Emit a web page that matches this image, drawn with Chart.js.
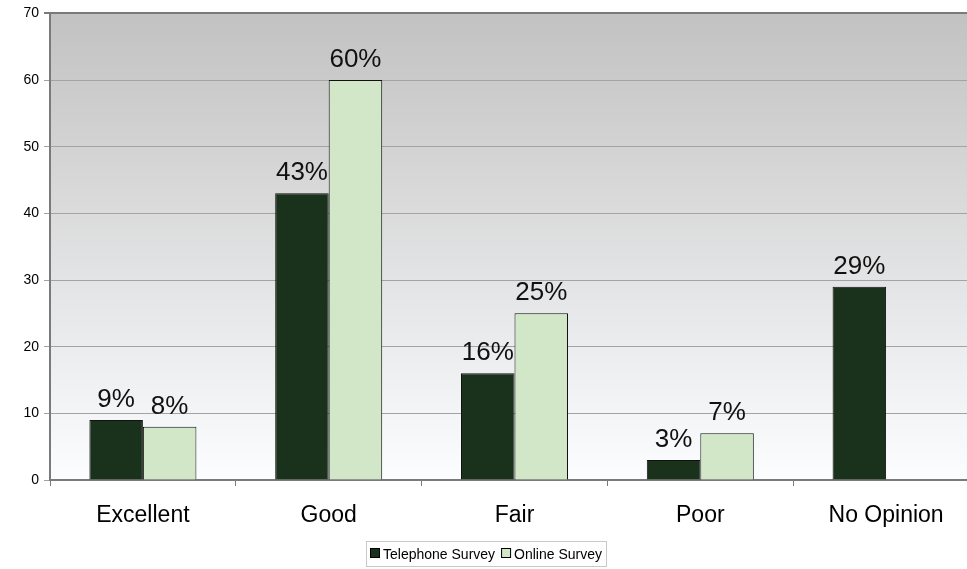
<!DOCTYPE html>
<html>
<head>
<meta charset="utf-8">
<script src="https://cdn.jsdelivr.net/npm/chart.js@4"></script>
<style>
  html, body { margin: 0; padding: 0; background: #fff; overflow: hidden; }
  /* the plot runs a little past the right edge of the picture */
  #wrap { width: 967px; height: 569px; overflow: hidden; }
  #surveyChart { display: block; }
</style>
</head>
<body>
<div id="wrap"><canvas id="surveyChart" width="979" height="569"></canvas></div>
<script>
const categories = ['Excellent', 'Good', 'Fair', 'Poor', 'No Opinion'];
const telephone = [9, 43, 16, 3, 29];
const online = [8, 60, 25, 7, null];
const yTicks = [0, 10, 20, 30, 40, 50, 60, 70];

const FONT = '"Liberation Sans", Arial, sans-serif';
const colors = {
    dark: '#1a321b',
    light: '#d1e7c7',
    grid: '#a3a3a3',
    axis: '#7a7a7a'
};

// gradient behind the plot, grey at the top fading to white
const plotBackground = {
    id: 'plotBackground',
    beforeDraw(chart) {
        const { ctx, chartArea: a } = chart;
        const g = ctx.createLinearGradient(0, a.top, 0, a.bottom);
        g.addColorStop(0, '#c2c2c2');
        g.addColorStop(1, '#fcfdff');
        ctx.save();
        ctx.fillStyle = g;
        ctx.fillRect(a.left, a.top, a.right - a.left, a.bottom - a.top);
        ctx.restore();
    }
};

// percent labels above each bar
const valueLabels = {
    id: 'valueLabels',
    afterDatasetsDraw(chart) {
        const ctx = chart.ctx;
        ctx.save();
        ctx.font = '26px ' + FONT;
        ctx.fillStyle = '#111';
        ctx.textAlign = 'center';
        ctx.textBaseline = 'alphabetic';
        chart.data.datasets.forEach((ds, i) => {
            chart.getDatasetMeta(i).data.forEach((bar, j) => {
                const v = ds.data[j];
                if (v == null) return;
                ctx.fillText(v + '%', bar.x, bar.y - 13);
            });
        });
        ctx.restore();
    }
};

// framed legend under the axis, built from the datasets
const boxLegend = {
    id: 'boxLegend',
    afterDraw(chart) {
        const ctx = chart.ctx;
        const top = 541, h = 25, box = 10, gap = 3, sep = 6, margin = 4;
        ctx.save();
        ctx.font = '14px ' + FONT;
        ctx.textBaseline = 'alphabetic';
        const items = chart.data.datasets.map(ds => ({ ds, w: ctx.measureText(ds.label).width }));
        const total = items.reduce((s, it) => s + box + gap + it.w, 0) + sep * (items.length - 1) + margin * 2;
        const left = Math.round(486 - total / 2);
        let x = left + margin;
        items.forEach(({ ds, w }) => {
            ctx.fillStyle = ds.backgroundColor;
            ctx.fillRect(x, top + 7, box, box);
            ctx.strokeStyle = '#000';
            ctx.lineWidth = 1;
            ctx.strokeRect(x + 0.5, top + 7.5, box - 1, box - 1);
            x += box + gap;
            ctx.fillStyle = '#000';
            ctx.fillText(ds.label, x, top + 18);
            x += w + sep;
        });
        ctx.strokeStyle = '#c8c8c8';
        ctx.lineWidth = 1;
        ctx.strokeRect(left + 0.5, top + 0.5, Math.round(total), h);
        ctx.restore();
    }
};

new Chart(document.getElementById('surveyChart'), {
    type: 'bar',
    data: {
        labels: categories,
        datasets: [{
            label: 'Telephone Survey',
            data: telephone,
            backgroundColor: colors.dark,
            borderColor: '#111',
            borderWidth: 1
        }, {
            label: 'Online Survey',
            data: online,
            backgroundColor: colors.light,
            borderColor: '#111',
            borderWidth: 1
        }]
    },
    options: {
        responsive: false,
        animation: false,
        layout: { padding: { top: 11, right: 0, bottom: 0, left: 0 } },
        datasets: { bar: { categoryPercentage: 0.576, barPercentage: 1 } },
        scales: {
            x: {
                afterFit(scale) { scale.height = 89; },
                grid: {
                    drawOnChartArea: false,
                    color: colors.axis,
                    tickLength: 6
                },
                border: { color: colors.axis, width: 2 },
                ticks: {
                    color: '#000',
                    padding: 16,
                    font: { family: FONT, size: 23 }
                }
            },
            y: {
                min: 0,
                max: 70,
                afterBuildTicks(scale) { scale.ticks = yTicks.map(v => ({ value: v })); },
                afterFit(scale) { scale.width = 50; },
                grid: {
                    color: ctx => ctx.tick && ctx.tick.value === 70 ? colors.axis : colors.grid,
                    lineWidth: ctx => ctx.tick && ctx.tick.value === 70 ? 2 : 1,
                    tickLength: 6
                },
                border: { color: colors.axis, width: 2 },
                ticks: {
                    color: '#000',
                    padding: 5,
                    font: { family: FONT, size: 14 }
                }
            }
        },
        plugins: {
            tooltip: { enabled: false },
            legend: { display: false }
        }
    },
    plugins: [plotBackground, valueLabels, boxLegend]
});
</script>
</body>
</html>
